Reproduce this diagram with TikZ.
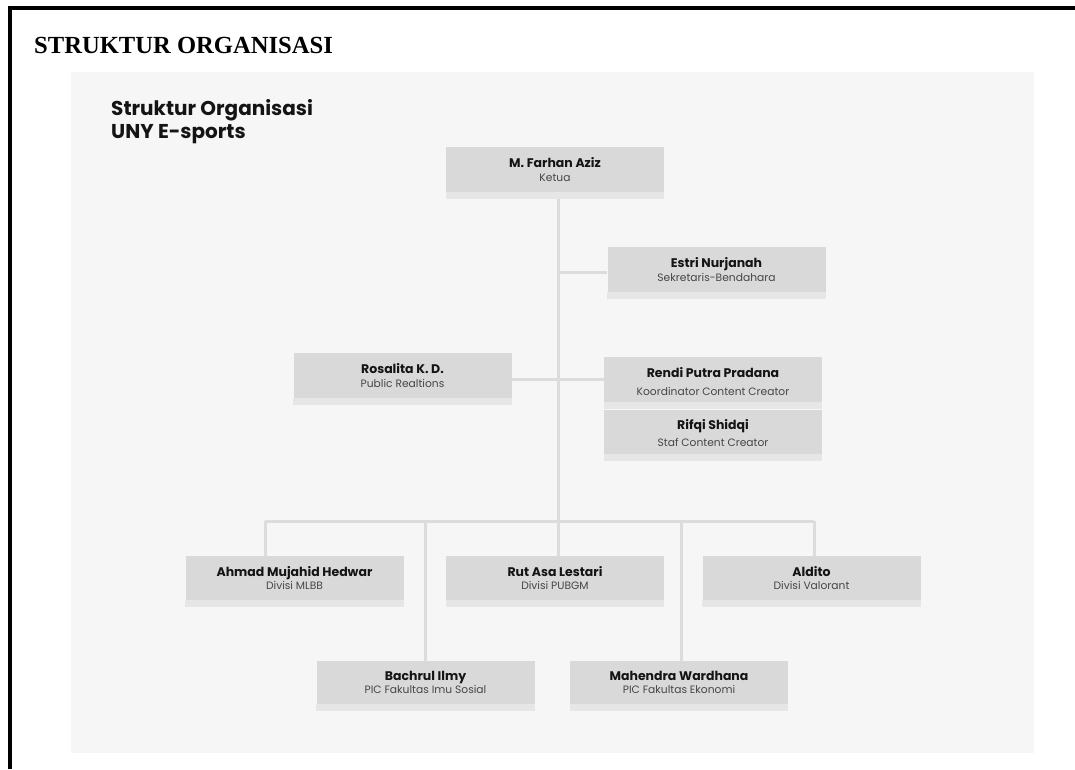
\documentclass[tikz,border=0pt]{standalone}
\usepackage{fontspec}
\setmainfont{Liberation Serif}
\newfontfamily\pop{Poppins}[BoldFont={Poppins Bold}]
\definecolor{panelc}{RGB}{246,246,246}
\definecolor{boxc}{RGB}{217,217,217}
\definecolor{stripc}{RGB}{230,230,230}
\definecolor{linec}{RGB}{220,220,220}
\definecolor{namec}{RGB}{20,20,20}
\definecolor{subc}{RGB}{70,70,70}
\newcommand\nmf{\bfseries\fontsize{12.5}{13.5}\selectfont\color{namec}}
\begin{document}
\begin{tikzpicture}[x=1pt,y=-1pt,
  orgbox/.style={fill=boxc, minimum width=218pt, minimum height=45pt, inner sep=0pt,
    align=center, text=subc, font=\pop\fontsize{10.7}{13.5}\selectfont},
  conn/.style={draw=linec, line width=3pt},
  stripfill/.style={fill=stripc}]
\useasboundingbox (0,0) rectangle (1075,769);
% frame
\draw[line width=4pt, line join=miter] (10,769) -- (10,8) -- (1075,8);
\node[anchor=base west, inner sep=0pt, font=\bfseries\fontsize{24.6}{28}\selectfont] (title) at (34,53) {STRUKTUR ORGANISASI};
% panel
\fill[panelc] (71,72) rectangle (1034,753);
\node[anchor=north west, inner sep=0pt, align=left, text=namec,
  font=\pop\bfseries\fontsize{20}{23}\selectfont] (heading) at (111,99.5) {Struktur Organisasi\\UNY E-sports};
% boxes
\node[orgbox] (ketua) at (555,169.5) {{\nmf M. Farhan Aziz}\\Ketua};
\node[orgbox] (estri) at (716.5,269.5) {{\nmf Estri Nurjanah}\\Sekretaris-Bendahara};
\node[orgbox] (rosalita) at (402.5,375.5) {{\nmf Rosalita K. D.}\\Public Realtions};
\node[orgbox] (rendi) at (713,379.5) {{\nmf\rule{0pt}{14.7pt}Rendi Putra Pradana}\\[4.85pt]Koordinator Content Creator};
\node[orgbox, minimum height=44pt] (rifqi) at (713,432) {{\nmf\rule{0pt}{12.7pt}Rifqi Shidqi}\\[3.85pt]Staf Content Creator};
\node[orgbox, minimum height=44pt] (ahmad) at (294.5,578) {{\nmf Ahmad Mujahid Hedwar}\\Divisi MLBB};
\node[orgbox, minimum height=44pt] (rut) at (555,578) {{\nmf Rut Asa Lestari}\\Divisi PUBGM};
\node[orgbox, minimum height=44pt] (aldito) at (811.5,578) {{\nmf Aldito}\\Divisi Valorant};
\node[orgbox, minimum height=43pt] (bachrul) at (425.5,682.5) {{\nmf Bachrul Ilmy}\\PIC Fakultas Imu Sosial};
\node[orgbox, minimum height=43pt] (mahendra) at (679,682.5) {{\nmf Mahendra Wardhana}\\PIC Fakultas Ekonomi};
% strips
\foreach \n in {ketua,estri,rosalita,rendi,rifqi,ahmad,rut,aldito,bachrul,mahendra}{
  \fill[stripfill] (\n.south west) rectangle ([yshift=-7pt]\n.south east);
}
% junctions
\coordinate (jE) at (558,272);
\coordinate (jR) at (558,379);
\coordinate (bus) at (558,521);
\coordinate (bL) at (265,521);
\coordinate (b2) at (425,521);
\coordinate (b4) at (681,521);
\coordinate (bR) at (814,521);
% connectors
\draw[conn] ([yshift=-7pt]ketua.south -| bus) -- (bus);
\draw[conn] (jE) -- (estri.west |- jE);
\draw[conn] (rosalita.east |- jR) -- (rendi.west |- jR);
\draw[conn] (bL) -- (bR);
\draw[conn] (bL) -- (bL |- ahmad.north);
\draw[conn] (b2) -- (b2 |- bachrul.north);
\draw[conn] (bus) -- (bus |- rut.north);
\draw[conn] (b4) -- (b4 |- mahendra.north);
\draw[conn] (bR) -- (bR |- aldito.north);
\end{tikzpicture}
\end{document}
